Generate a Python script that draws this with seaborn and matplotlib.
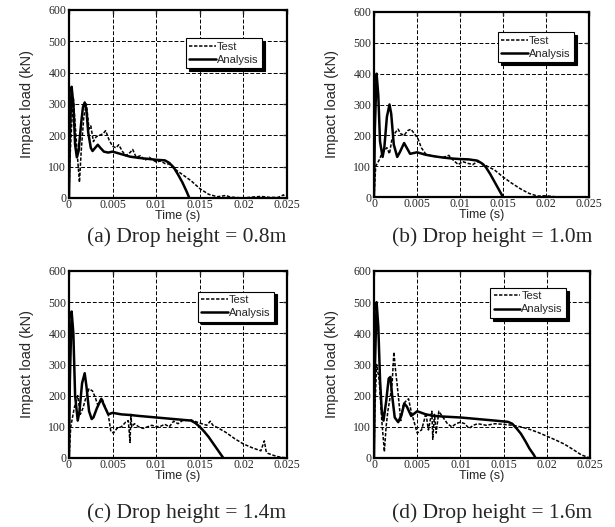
import numpy as np
import pandas as pd
import matplotlib
matplotlib.use("Agg")
import matplotlib.pyplot as plt
import seaborn as sns

# ---------------- data ----------------
a_test_t = [0, 0.0001, 0.0003, 0.0005, 0.0008, 0.0010, 0.0012, 0.0014, 0.0017, 0.0020, 0.0023, 0.0025,
            0.0028, 0.0031, 0.0035, 0.0039, 0.0042, 0.0046, 0.0050, 0.0054, 0.0057, 0.0061, 0.0065,
            0.0070, 0.0073, 0.0077, 0.0082, 0.0087, 0.0092, 0.0097, 0.0100, 0.0105, 0.0110, 0.0115,
            0.0120, 0.0130, 0.0140, 0.0150, 0.0160, 0.0170, 0.0180, 0.0185, 0.0190, 0.0200, 0.0210,
            0.0220, 0.0230, 0.0240, 0.0246, 0.0248, 0.0250]
a_test_v = [0, 120, 230, 320, 200, 120, 50, 150, 260, 300, 220, 230,
            180, 195, 200, 205, 215, 185, 165, 160, 170, 150, 135,
            145, 155, 130, 135, 120, 130, 120, 115, 118, 110, 108,
            95, 75, 55, 30, 12, 4, 8, 3, 2, 0, 3,
            5, 2, 2, 10, 0, 0]
a_ana_t = [0, 0.0001, 0.0003, 0.0005, 0.0007, 0.0009, 0.0011, 0.0014, 0.0016, 0.0018, 0.0020, 0.0022,
           0.0025, 0.0027, 0.0030, 0.0033, 0.0036, 0.0040, 0.0045, 0.0050, 0.0060, 0.0070, 0.0080,
           0.0090, 0.0100, 0.0110, 0.0115, 0.0120, 0.0125, 0.0130, 0.0135, 0.0138]
a_ana_v = [0, 200, 355, 300, 170, 130, 150, 240, 290, 305, 280, 210,
           160, 150, 160, 170, 160, 148, 145, 148, 140, 132, 128,
           125, 122, 120, 112, 98, 75, 50, 20, 0]

b_test_t = [0, 0.0002, 0.0006, 0.0009, 0.0012, 0.0015, 0.0018, 0.0021, 0.0025, 0.0028, 0.0031, 0.0035,
            0.0039, 0.0043, 0.0047, 0.0051, 0.0055, 0.0060, 0.0065, 0.0070, 0.0075, 0.0080, 0.0087,
            0.0092, 0.0098, 0.0103, 0.0108, 0.0115, 0.0120, 0.0125, 0.0130, 0.0140, 0.0150, 0.0160,
            0.0170, 0.0180, 0.0190, 0.0200, 0.0210, 0.0220, 0.0250]
b_test_v = [0, 100, 120, 140, 150, 160, 140, 190, 210, 220, 205, 200,
            215, 220, 205, 190, 160, 140, 135, 132, 130, 128, 135,
            120, 105, 115, 110, 105, 115, 110, 102, 88, 65, 45,
            27, 12, 3, 4, 1, 0, 0]
b_ana_t = [0, 0.0001, 0.0003, 0.0005, 0.0007, 0.0010, 0.0012, 0.0015, 0.0018, 0.0020, 0.0023, 0.0027,
           0.0030, 0.0035, 0.0038, 0.0042, 0.0050, 0.0060, 0.0070, 0.0080, 0.0090, 0.0100, 0.0110,
           0.0120, 0.0125, 0.0130, 0.0135, 0.0140, 0.0145, 0.0150]
b_ana_v = [0, 220, 400, 330, 180, 130, 160, 260, 300, 270, 170, 130,
           145, 175, 160, 140, 145, 137, 132, 128, 125, 123, 122,
           118, 110, 97, 75, 50, 25, 0]

c_test_t = [0, 0.0002, 0.0006, 0.0010, 0.0013, 0.0016, 0.0020, 0.0023, 0.0027, 0.0030, 0.0033, 0.0038,
            0.0042, 0.0045, 0.0048, 0.0051, 0.0055, 0.0060, 0.0065, 0.0068, 0.0070, 0.0071, 0.0072,
            0.0075, 0.0080, 0.0085, 0.0090, 0.0095, 0.0100, 0.0105, 0.0110, 0.0115, 0.0120, 0.0125,
            0.0130, 0.0140, 0.0150, 0.0158, 0.0162, 0.0165, 0.0170, 0.0180, 0.0190, 0.0200, 0.0210,
            0.0220, 0.0224, 0.0226, 0.0228, 0.0235, 0.0240, 0.0250]
c_test_v = [0, 100, 160, 200, 140, 160, 200, 222, 215, 195, 170, 190,
            160, 140, 85, 80, 95, 100, 115, 120, 50, 140, 100,
            110, 100, 95, 100, 105, 100, 102, 108, 100, 118, 110,
            120, 122, 112, 105, 118, 105, 98, 82, 62, 45, 33,
            23, 55, 22, 15, 8, 4, 0]
c_ana_t = [0, 0.0001, 0.0003, 0.0005, 0.0007, 0.0010, 0.0012, 0.0015, 0.0018, 0.0020, 0.0023, 0.0026,
           0.0028, 0.0032, 0.0037, 0.0040, 0.0045, 0.0050, 0.0060, 0.0070, 0.0080, 0.0100, 0.0120,
           0.0140, 0.0145, 0.0150, 0.0155, 0.0160, 0.0165, 0.0170, 0.0175, 0.0177]
c_ana_v = [0, 250, 470, 400, 200, 120, 150, 240, 272, 230, 150, 125,
           130, 160, 190, 170, 140, 145, 140, 138, 135, 130, 125,
           120, 112, 100, 85, 68, 48, 28, 8, 0]

d_test_t = [0, 0.0001, 0.0003, 0.0006, 0.0009, 0.0012, 0.0014, 0.0016, 0.0019, 0.0021, 0.0023, 0.0025,
            0.0027, 0.0031, 0.0034, 0.0036, 0.0040, 0.0043, 0.0045, 0.0050, 0.0055, 0.0058, 0.0060,
            0.0063, 0.0065, 0.0067, 0.0068, 0.0070, 0.0072, 0.0075, 0.0080, 0.0085, 0.0090, 0.0095,
            0.0100, 0.0105, 0.0110, 0.0115, 0.0120, 0.0130, 0.0140, 0.0150, 0.0160, 0.0170, 0.0180,
            0.0190, 0.0200, 0.0210, 0.0220, 0.0230, 0.0240, 0.0250]
d_test_v = [0, 150, 300, 250, 120, 20, 100, 150, 200, 240, 340, 280,
            230, 120, 170, 180, 190, 150, 130, 80, 90, 120, 145,
            90, 120, 150, 60, 140, 80, 150, 130, 110, 100, 110,
            115, 110, 95, 105, 110, 105, 110, 108, 105, 100, 92,
            82, 70, 58, 45, 28, 10, 0]
d_ana_t = [0, 0.0001, 0.0003, 0.0005, 0.0007, 0.0009, 0.0011, 0.0014, 0.0017, 0.0019, 0.0021, 0.0024,
           0.0028, 0.0032, 0.0035, 0.0038, 0.0043, 0.0050, 0.0060, 0.0070, 0.0080, 0.0100, 0.0120,
           0.0140, 0.0155, 0.0160, 0.0165, 0.0170, 0.0175, 0.0180, 0.0185, 0.0187]
d_ana_v = [0, 280, 500, 420, 250, 150, 120, 180, 255, 260, 200, 130,
           115, 140, 175, 165, 135, 150, 140, 135, 133, 130, 125,
           120, 116, 110, 95, 78, 55, 30, 10, 0]

captions = ["(a) Drop height = 0.8m", "(b) Drop height = 1.0m",
            "(c) Drop height = 1.4m", "(d) Drop height = 1.6m"]
series_names = ["Test", "Analysis"]
x_ticks = [0, 0.005, 0.01, 0.015, 0.02, 0.025]
x_tick_labels = ["0", "0.005", "0.01", "0.015", "0.02", "0.025"]
y_ticks = [0, 100, 200, 300, 400, 500, 600]

panels = [
    (a_test_t, a_test_v, a_ana_t, a_ana_v),
    (b_test_t, b_test_v, b_ana_t, b_ana_v),
    (c_test_t, c_test_v, c_ana_t, c_ana_v),
    (d_test_t, d_test_v, d_ana_t, d_ana_v),
]

# ---------------- layout ----------------
sns.set_style("white")
plt.rcParams["font.family"] = ["Liberation Sans", "DejaVu Sans"]

fig = plt.figure(figsize=(6.15, 5.27), dpi=100)
W, H = 615, 527
ax_px = [(69, 10, 218, 188), (374, 12, 215, 185), (69, 271, 218, 187), (374, 271, 216, 187)]
leg_anchor = [(0.885, 0.85), (0.93, 0.89), (0.94, 0.89), (0.89, 0.91)]
cap_px = [(187, 237), (492, 237), (187, 513), (492, 513)]

for i, (tt, tv, at, av) in enumerate(panels):
    l, t, w, h = ax_px[i]
    ax = fig.add_axes([l / W, 1 - (t + h) / H, w / W, h / H])
    df = pd.concat([
        pd.DataFrame({"Time": tt, "Load": tv, "Series": series_names[0]}),
        pd.DataFrame({"Time": at, "Load": av, "Series": series_names[1]}),
    ])
    sns.lineplot(data=df, x="Time", y="Load", hue="Series", style="Series",
                 palette=["black", "black"], dashes={"Test": (2.2, 1.1), "Analysis": ""},
                 size="Series", sizes={"Test": 1.1, "Analysis": 1.8},
                 sort=False, estimator=None, ax=ax, legend=True)
    ax.set_xlim(0, 0.025)
    ax.set_ylim(0, 600)
    ax.set_xticks(x_ticks)
    ax.set_xticklabels(x_tick_labels, fontfamily="Liberation Serif", fontsize=8.5)
    ax.set_yticks(y_ticks)
    ax.set_yticklabels([str(v) for v in y_ticks], fontfamily="Liberation Serif", fontsize=8.5)
    ax.grid(True, color="black", linestyle=(0, (4, 2)), linewidth=0.7)
    ax.tick_params(direction="in", length=3, width=1, top=True, right=True)
    ax.tick_params(axis="y", pad=2)
    ax.tick_params(axis="x", pad=1)
    for s in ax.spines.values():
        s.set_linewidth(1.6)
        s.set_color("black")
    ax.set_xlabel("Time (s)", fontsize=9, labelpad=-1)
    ax.set_ylabel("Impact load (kN)", fontsize=10.5, labelpad=10)
    handles, labels = ax.get_legend_handles_labels()
    ax.legend(handles, labels, loc="upper right", bbox_to_anchor=leg_anchor[i],
              fontsize=8, frameon=True, fancybox=False, edgecolor="black", framealpha=1,
              shadow={"color": "black", "alpha": 1}, handlelength=2.4, handletextpad=0.1,
              borderpad=0.3, labelspacing=0.3, borderaxespad=0)
    leg = ax.get_legend()
    leg.get_frame().set_linewidth(0.8)
    cx, cy = cap_px[i]
    fig.text(cx / W, 1 - cy / H, captions[i], ha="center", va="center",
             fontfamily="Liberation Serif", fontsize=15.5)

fig.savefig("out.png", dpi=100)
